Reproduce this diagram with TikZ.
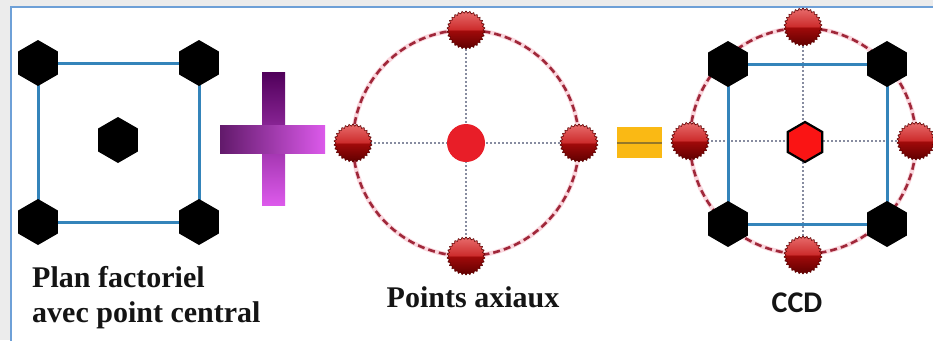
\documentclass[tikz,border=0pt]{standalone}
\usepackage{fontspec}
\setmainfont{Liberation Serif}
\newfontfamily\ccdfont{Carlito}
\usetikzlibrary{positioning,shapes.geometric,calc}
\definecolor{ink}{RGB}{20,20,20}
\definecolor{pagegray}{RGB}{236,236,236}
\definecolor{frameblue}{RGB}{110,160,215}
\definecolor{sqblue}{RGB}{52,132,186}
\definecolor{ringred}{RGB}{160,40,58}
\definecolor{ringpink}{RGB}{250,215,222}
\definecolor{crossgray}{RGB}{135,140,160}
\definecolor{dotred}{RGB}{232,30,40}
\definecolor{hexred}{RGB}{250,20,20}
\definecolor{plusdark}{RGB}{80,0,90}
\definecolor{pluslight}{RGB}{220,90,235}
\definecolor{eqgold}{RGB}{250,185,20}
\definecolor{eqline}{RGB}{150,120,40}
\definecolor{ballA}{RGB}{228,100,100}
\definecolor{ballB}{RGB}{205,45,45}
\definecolor{ballC}{RGB}{160,10,10}
\definecolor{ballD}{RGB}{95,0,0}
\pgfdeclareverticalshading{axball}{100bp}{color(0bp)=(ballD); color(25bp)=(ballD);
  color(49bp)=(ballC); color(51bp)=(ballB); color(72bp)=(ballA); color(100bp)=(ballA)}
\pgfdeclarelayer{background}
\pgfdeclarelayer{lines}
\pgfsetlayers{background,lines,main}
\tikzset{
  hexpt/.style={regular polygon, regular polygon sides=6, shape border rotate=30,
    fill=black, minimum size=46pt, inner sep=0pt},
  hexctr/.style={regular polygon, regular polygon sides=6, shape border rotate=30,
    fill=hexred, draw=black, line width=2.2pt, minimum size=40pt, inner sep=0pt},
  axpt/.style={star, star points=30, star point ratio=1.12, minimum size=38pt,
    inner sep=0pt, draw=ballD, line width=0.6pt, shading=axball},
  ctrdot/.style={circle, fill=dotred, minimum size=38pt, inner sep=0pt},
  sqline/.style={draw=sqblue, line width=3pt},
  ringhalo/.style={draw=ringpink, line width=4.5pt},
  ring/.style={draw=ringred, line width=2.6pt, dash pattern=on 7pt off 4pt},
  crossline/.style={draw=crossgray, line width=1.4pt, dash pattern=on 1.5pt off 2.5pt},
  lbl/.style={font=\bfseries\fontsize{30}{35}\selectfont, text=ink, inner sep=0pt},
}
\begin{document}
\begin{tikzpicture}[x=1pt,y=-1pt]
\useasboundingbox (0,0) rectangle (933,340);
% page and frame
\begin{pgfonlayer}{background}
\fill[pagegray] (0,0) rectangle (933,340);
\filldraw[fill=white, draw=frameblue, line width=1.2pt] (11,7) rectangle (945,350);
\end{pgfonlayer}

% factorial design with centre point
\node[hexpt] (f1) at (38,63) {};
\node[hexpt] (f2) at (199,63) {};
\node[hexpt] (f3) at (199,222) {};
\node[hexpt] (f4) at (38,222) {};
\node[hexpt] (f0) at (118,140) {};
\begin{pgfonlayer}{lines}
\draw[sqline] (f1.center) -- (f2.center) -- (f3.center) -- (f4.center) -- cycle;
\end{pgfonlayer}
\node[lbl, align=left, anchor=base west] (lblfact) at (32,322) {Plan factoriel\\avec point central};

% plus sign
\shade[top color=plusdark, bottom color=pluslight] (262,72) rectangle (285,205);
\shade[left color=plusdark!90, right color=pluslight] (220,125) rectangle (325,153);

% axial points
\node[ctrdot] (a0) at (466,143) {};
\node[axpt] (aW) at (353,143) {};
\node[axpt] (aE) at (579,143) {};
\node[axpt] (aN) at (466,30) {};
\node[axpt] (aS) at (466,256) {};
\begin{pgfonlayer}{lines}
\draw[ringhalo] (a0.center) circle[radius=113];
\draw[ring] (a0.center) circle[radius=113];
\draw[crossline] (aW) -- (aE);
\draw[crossline] (aN) -- (aS);
\end{pgfonlayer}
\node[lbl, anchor=base] (lblax) at (473,307) {Points axiaux};

% equal sign
\fill[eqgold] (617,127) rectangle (662,158);
\draw[eqline, line width=2pt] (617,142.5) -- (662,142.5);

% central composite design
\node[hexctr] (c0) at (805,142) {};
\node[hexpt] (c1) at (728,64) {};
\node[hexpt] (c2) at (887,64) {};
\node[hexpt] (c3) at (887,224) {};
\node[hexpt] (c4) at (728,224) {};
\node[axpt] (cW) at (690,141) {};
\node[axpt] (cE) at (916,141) {};
\node[axpt] (cN) at (803,27) {};
\node[axpt] (cS) at (803,255) {};
\begin{pgfonlayer}{lines}
\draw[ringhalo] (803,141) circle[radius=113];
\draw[ring] (803,141) circle[radius=113];
\draw[crossline] (cW) -- (cE);
\draw[crossline] (cN) -- (cS);
\draw[sqline] (c1.center) -- (c2.center) -- (c3.center) -- (c4.center) -- cycle;
\end{pgfonlayer}
\node[font=\ccdfont\bfseries\fontsize{30}{34}\selectfont, text=ink, inner sep=0pt, anchor=base] (lblccd) at (797,312) {CCD};
\end{tikzpicture}
\end{document}
